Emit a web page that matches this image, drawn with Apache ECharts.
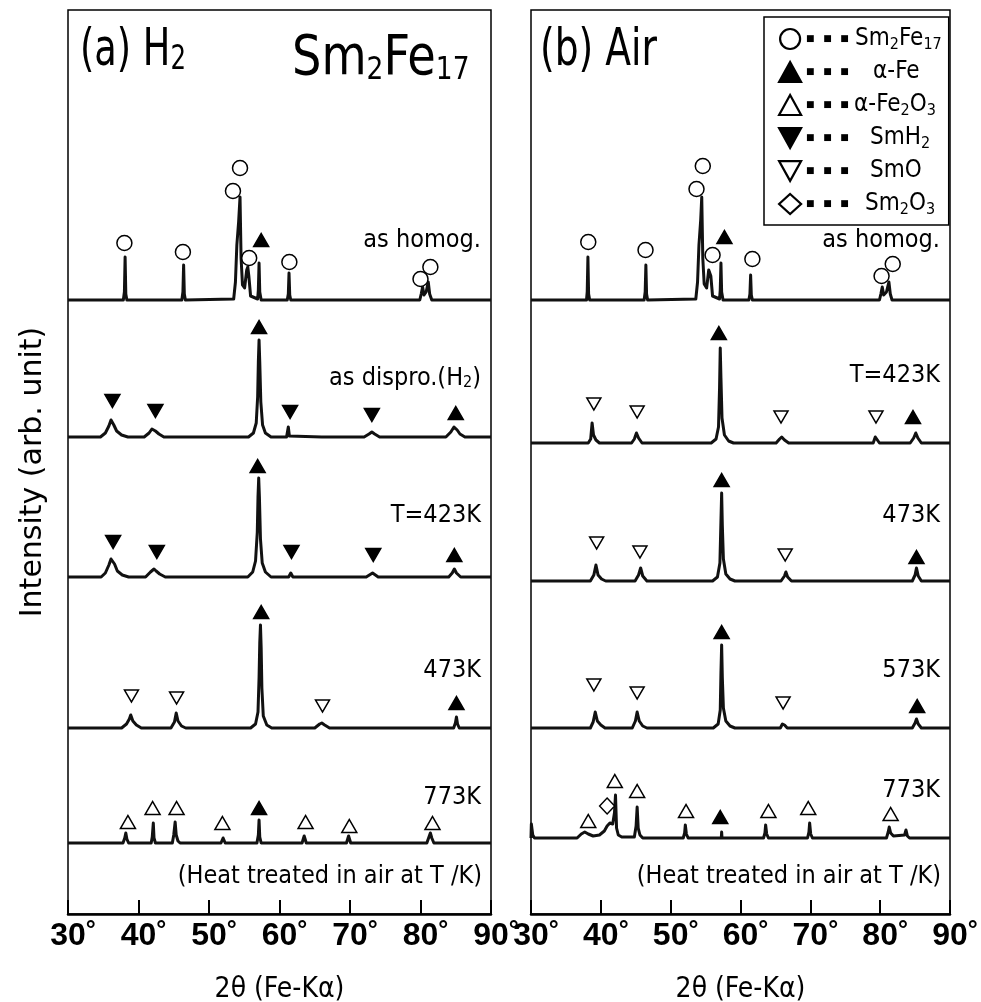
<!DOCTYPE html>
<html>
<head>
<meta charset="utf-8">
<script src="https://cdn.jsdelivr.net/npm/echarts@6/dist/echarts.min.js"></script>
<style>
html, body { margin: 0; padding: 0; background: #fff; }
#main { width: 981px; height: 1002px; }
</style>
</head>
<body>
<div id="main"></div>
<script>
// x axis
var xMin = 30, xMax = 90, xStep = 10;
var xName = '2θ (Fe-Kα)';
var yName = 'Intensity (arb. unit)';

// pattern labels
var labelsA = ['as homog.', 'as dispro.(H{s|2})', 'T=423K', '473K', '773K'];
var labelsB = ['as homog.', 'T=423K', '473K', '573K', '773K'];
var phaseNames = ['Sm2Fe17', 'α-Fe', 'α-Fe2O3', 'SmH2', 'SmO', 'Sm2O3'];

// (a) H2 patterns  [2theta, intensity above own baseline]
var a_homog = [[30,0],[37.85,0],[38.0,8],[38.1,43],[38.2,6],[38.35,0],
  [46.15,0],[46.3,8],[46.4,35],[46.5,6],[46.65,0],
  [53.5,1],[53.75,18],[53.95,55],[54.2,78],[54.4,103],[54.55,42],[54.75,15],[55.05,12],[55.35,30],[55.5,33],[55.65,24],[55.9,4],
  [56.9,1],[57.0,10],[57.1,37],[57.2,8],[57.4,0],
  [61.1,0],[61.25,6],[61.35,27],[61.45,5],[61.6,0],
  [79.9,0],[80.1,6],[80.3,13],[80.5,5],[80.8,8],[81.1,18],[81.3,6],[81.6,0],[90,0]];
var a_dispro = [[30,0],[34.6,0],[35.3,4],[35.8,11],[36.1,17],[36.25,19],[36.5,12],[36.9,6],[37.6,2],[38.5,0],
  [40.8,0],[41.5,4],[41.9,8],[42.1,9],[42.4,6],[42.9,3],[43.6,0],
  [55.6,0],[56.3,4],[56.7,14],[56.9,40],[57.0,75],[57.1,97],[57.2,75],[57.35,35],[57.6,12],[58.0,4],[58.8,0],
  [61.0,0],[61.15,2],[61.25,10],[61.4,1],[61.6,0],[66.0,0],
  [72.0,0],[72.7,3],[73.1,5],[73.5,3],[74.2,0],
  [83.6,0],[84.3,5],[84.75,10],[84.9,11],[85.2,7],[85.6,3],[86.3,0],[90,0]];
var a_423 = [[30,0],[34.7,0],[35.3,4],[35.8,12],[36.1,18],[36.3,20],[36.6,13],[37.0,6],[37.7,2],[38.6,0],
  [41.0,0],[41.7,5],[42.2,8],[42.5,6],[43.0,3],[43.8,0],
  [55.5,0],[56.2,5],[56.6,16],[56.85,45],[56.95,80],[57.05,99],[57.15,80],[57.3,38],[57.55,14],[58.0,5],[58.8,0],
  [61.3,0],[61.6,4],[61.9,0],
  [72.3,0],[73.2,4],[74.0,0],
  [84.0,0],[84.5,4],[84.8,8],[85.1,4],[85.7,0],[90,0]];
var a_473 = [[30,0],[37.6,0],[38.3,4],[38.7,9],[38.9,13],[39.2,7],[39.7,3],[40.4,0],
  [44.6,0],[45.1,6],[45.35,15],[45.6,7],[46.1,2],[46.7,0],
  [55.9,0],[56.6,4],[56.95,16],[57.1,50],[57.2,85],[57.3,103],[57.4,80],[57.5,40],[57.7,12],[58.2,3],[58.9,0],
  [65.0,0],[65.7,4],[66.0,5],[66.4,3],[67.1,0],
  [84.7,0],[84.95,5],[85.1,11],[85.25,4],[85.5,0],[90,0]];
var a_773 = [[30,0],[37.8,0],[38.05,5],[38.2,10],[38.35,4],[38.6,0],
  [41.8,0],[41.95,6],[42.1,20],[42.2,5],[42.4,0],
  [44.8,0],[45.0,8],[45.2,21],[45.35,8],[45.6,2],[45.9,0],
  [51.7,0],[52.0,5],[52.3,0],
  [56.8,0],[57.0,8],[57.1,23],[57.2,6],[57.4,0],
  [63.2,0],[63.5,7],[63.8,0],
  [69.5,0],[69.8,7],[70.1,0],
  [80.9,0],[81.2,6],[81.4,10],[81.6,5],[81.9,0],[90,0]];

// (b) Air patterns
var b_homog = [[30,0],[37.95,0],[38.05,8],[38.15,43],[38.25,6],[38.4,0],
  [46.2,0],[46.35,8],[46.45,35],[46.55,6],[46.7,0],
  [53.6,1],[53.85,18],[54.05,55],[54.3,80],[54.45,103],[54.6,42],[54.8,16],[55.15,12],[55.45,30],[55.6,32],[55.75,24],[56.0,4],
  [57.0,1],[57.1,10],[57.2,37],[57.3,8],[57.5,0],
  [61.2,0],[61.35,6],[61.45,25],[61.55,5],[61.7,0],
  [79.9,0],[80.1,6],[80.3,13],[80.5,5],[80.9,8],[81.25,18],[81.45,6],[81.7,0],[90,0]];
var b_423 = [[30,0],[38.2,0],[38.55,4],[38.75,20],[38.95,8],[39.3,3],[39.8,0],
  [44.4,0],[44.8,4],[45.1,10],[45.4,5],[45.9,0],
  [55.8,0],[56.5,4],[56.85,16],[57.0,55],[57.1,95],[57.2,65],[57.35,25],[57.7,8],[58.3,2],[59.0,0],
  [65.1,0],[65.6,4],[65.9,6],[66.3,3],[66.9,0],
  [79.0,0],[79.3,6],[79.4,8],[79.6,3],[79.9,0],
  [84.3,0],[84.8,5],[85.1,10],[85.4,5],[85.9,0],[90,0]];
var b_473 = [[30,0],[38.5,0],[39.0,6],[39.3,16],[39.6,6],[40.1,2],[40.7,0],
  [44.9,0],[45.4,6],[45.7,13],[46.0,5],[46.6,0],
  [56.0,0],[56.7,4],[57.05,18],[57.2,60],[57.3,88],[57.4,55],[57.55,22],[57.9,7],[58.5,2],[59.2,0],
  [65.8,0],[66.3,5],[66.5,9],[66.75,4],[67.3,0],
  [84.6,0],[85.0,6],[85.2,13],[85.45,5],[85.9,0],[90,0]];
var b_573 = [[30,0],[38.5,0],[38.9,6],[39.2,16],[39.5,7],[40.0,3],[40.6,0],
  [44.5,0],[44.95,7],[45.2,16],[45.5,7],[46.0,2],[46.6,0],
  [56.1,0],[56.8,4],[57.1,18],[57.2,55],[57.3,83],[57.4,50],[57.55,20],[57.9,7],[58.5,2],[59.2,0],
  [65.7,0],[66.0,4],[66.1,6],[66.3,3],[66.7,0],
  [84.6,0],[85.0,5],[85.2,9],[85.45,4],[85.9,0],[90,0]];
var b_773 = [[30,0],[30.05,14],[30.25,3],[30.5,0],
  [36.6,0],[37.2,4],[37.7,6],[38.2,4],[38.9,2],[39.8,3],[40.5,7],[40.9,12],[41.3,15],[41.7,14],[41.95,25],[42.1,43],[42.25,10],[42.5,3],[43.0,1],
  [44.8,1],[45.05,12],[45.2,31],[45.35,10],[45.6,3],[46.0,0],
  [51.8,0],[52.0,5],[52.1,13],[52.25,4],[52.5,0],
  [57.25,0],[57.3,6],[57.35,0],
  [63.3,0],[63.5,5],[63.6,13],[63.75,4],[64.0,0],
  [69.6,0],[69.8,6],[69.9,15],[70.05,4],[70.3,0],
  [80.9,0],[81.15,6],[81.3,11],[81.5,5],[81.9,2],[83.5,3],[83.7,8],[83.9,2],[84.2,0],[90,0]];

// peak markers  [pattern index, 2theta, height above that pattern's baseline]
var a_Sm2Fe17 = [[0,38.0,57],[0,46.3,48],[0,53.4,109],[0,54.4,132],[0,55.7,42],[0,61.4,38],[0,80.0,21],[0,81.4,33]];
var a_aFe = [[0,57.4,60],[1,57.1,110],[1,85.0,24],[2,56.9,111],[2,84.8,22],[3,57.4,116],[3,85.1,25],[4,57.1,35]];
var a_aFe2O3 = [[4,38.5,21],[4,42.0,35],[4,45.4,35],[4,51.9,20],[4,63.7,21],[4,69.9,17],[4,81.7,20]];
var a_SmH2 = [[1,36.3,36],[1,42.4,26],[1,61.5,25],[1,73.1,22],[2,36.4,35],[2,42.6,25],[2,61.7,25],[2,73.3,22]];
var a_SmO = [[3,39.0,32],[3,45.4,30],[3,66.1,22]];
var a_Sm2O3 = [];

var b_Sm2Fe17 = [[0,38.2,58],[0,46.4,50],[0,53.7,111],[0,54.6,134],[0,56.0,45],[0,61.7,41],[0,80.2,24],[0,81.8,36]];
var b_aFe = [[0,57.7,63],[1,56.9,110],[1,84.7,26],[2,57.3,101],[2,85.2,24],[3,57.3,96],[3,85.3,22],[4,57.1,21]];
var b_aFe2O3 = [[4,38.2,17],[4,42.0,57],[4,45.2,47],[4,52.2,27],[4,64.0,27],[4,69.7,30],[4,81.5,24]];
var b_SmH2 = [];
var b_SmO = [[1,39.0,39],[1,45.2,31],[1,65.8,26],[1,79.4,26],[2,39.4,38],[2,45.6,29],[2,66.4,26],[3,39.0,43],[3,45.2,35],[3,66.1,25]];
var b_Sm2O3 = [[4,40.9,32]];

// ---- layout & style ----
var COND = "'DejaVu Sans Condensed', 'DejaVu Sans', sans-serif";
var LIB = "'Liberation Sans', Arial, sans-serif";
var PLOT_TOP = 10, PLOT_H = 904;
var panels = [
  { left: 68, width: 423, traces: [a_homog, a_dispro, a_423, a_473, a_773], offs: [614, 477, 337, 186, 71],
    marks: [a_Sm2Fe17, a_aFe, a_aFe2O3, a_SmH2, a_SmO, a_Sm2O3], labels: labelsA, labelY: [240, 378, 515, 670, 797] },
  { left: 531, width: 419, traces: [b_homog, b_423, b_473, b_573, b_773], offs: [614, 471, 333, 186, 76],
    marks: [b_Sm2Fe17, b_aFe, b_aFe2O3, b_SmH2, b_SmO, b_Sm2O3], labels: labelsB, labelY: [240, 375, 515, 670, 790] }
];
var phaseStyle = [
  { symbol: 'circle', size: 15, rotate: 0, fill: '#fff' },
  { symbol: 'triangle', size: [15, 13], rotate: 0, fill: '#000' },
  { symbol: 'triangle', size: [15, 13], rotate: 0, fill: '#fff' },
  { symbol: 'triangle', size: [15, 13], rotate: 180, fill: '#000' },
  { symbol: 'triangle', size: [14, 12], rotate: 180, fill: '#fff' },
  { symbol: 'diamond', size: [15, 16], rotate: 0, fill: '#fff' }
];
var DOWN = 'path://M0,0L20,0L10,18Z';
var legendText = {
  'Sm2Fe17': 'Sm{s|2}Fe{s|17}', 'α-Fe': 'α-Fe', 'α-Fe2O3': 'α-Fe{s|2}O{s|3}',
  'SmH2': 'SmH{s|2}', 'SmO': 'SmO', 'Sm2O3': 'Sm{s|2}O{s|3}'
};
var legendIndent = [49, 67, 48, 64, 64, 59];

var chart = echarts.init(document.getElementById('main'));

var grids = [], xAxes = [], yAxes = [], series = [], graphics = [];
panels.forEach(function (p, gi) {
  grids.push({ left: p.left, top: PLOT_TOP, width: p.width, height: PLOT_H,
    outerBoundsMode: 'none', containLabel: false,
    show: true, borderColor: '#000', borderWidth: 1.5 });
  xAxes.push({
    type: 'value', gridIndex: gi, min: xMin, max: xMax, interval: xStep,
    axisLine: { lineStyle: { color: '#000', width: 2.5 } },
    axisTick: { inside: true, length: 14, lineStyle: { color: '#000', width: 2 } },
    splitLine: { show: false },
    axisLabel: {
      margin: 5, padding: [0, 0, 0, 10],
      formatter: function (v) { return '{v|' + v + '}{d|°}'; },
      rich: {
        v: { fontSize: 32, fontWeight: 'bold', fontFamily: LIB, color: '#000', lineHeight: 34 },
        d: { fontSize: 25, fontWeight: 'bold', fontFamily: LIB, color: '#000', lineHeight: 24, verticalAlign: 'top' }
      }
    },
    name: xName, nameLocation: 'middle', nameGap: 62, nameMoveOverlap: false,
    nameTextStyle: { fontSize: 28, fontFamily: COND, color: '#000' }
  });
  yAxes.push({ type: 'value', gridIndex: gi, min: 0, max: PLOT_H, show: false });

  p.traces.forEach(function (t, i) {
    series.push({
      type: 'line', xAxisIndex: gi, yAxisIndex: gi, silent: true, animation: false,
      symbol: 'none', z: 2,
      lineStyle: { color: '#111', width: 3, join: 'round' },
      data: t.map(function (d) { return [d[0], d[1] + p.offs[i]]; })
    });
  });

  p.marks.forEach(function (m, k) {
    var st = phaseStyle[k];
    series.push({
      name: phaseNames[k], type: 'scatter', xAxisIndex: gi, yAxisIndex: gi,
      silent: true, animation: false, z: 5,
      symbol: st.symbol, symbolSize: st.size, symbolRotate: st.rotate,
      itemStyle: { color: st.fill, borderColor: '#000', borderWidth: 1.5, opacity: 1 },
      data: m.map(function (d) { return [d[1], d[2] + p.offs[d[0]]]; })
    });
  });

  p.labels.forEach(function (txt, i) {
    graphics.push({
      type: 'text', x: p.left + p.width - 10, y: p.labelY[i], silent: true,
      style: { text: txt, align: 'right', verticalAlign: 'middle', fill: '#000',
        fontSize: 25, fontFamily: COND,
        rich: { s: { fontSize: 16, fontFamily: COND, lineHeight: 14, verticalAlign: 'bottom' } } }
    });
  });
  graphics.push({
    type: 'text', x: p.left + p.width - 9, y: 876, silent: true,
    style: { text: '(Heat treated in air at T /K)', align: 'right', verticalAlign: 'middle',
      fill: '#000', fontSize: 25, fontFamily: COND }
  });
});

// panel titles
var bigRich = {
  s: { fontSize: 34, fontFamily: COND, lineHeight: 30, verticalAlign: 'bottom' },
  t: { fontSize: 32, fontFamily: COND, lineHeight: 30, verticalAlign: 'bottom' }
};
graphics.push(
  { type: 'text', x: 80, y: 27, scaleX: 0.8, silent: true,
    style: { text: '(a) H{s|2}', fontSize: 51, fontFamily: COND, lineHeight: 50, fill: '#000',
      verticalAlign: 'top', rich: bigRich } },
  { type: 'text', x: 292, y: 31, scaleX: 0.92, silent: true,
    style: { text: 'Sm{t|2}Fe{t|17}', fontSize: 56, fontFamily: COND, lineHeight: 56, fill: '#000',
      verticalAlign: 'top', rich: bigRich } },
  { type: 'text', x: 540, y: 27, scaleX: 0.82, silent: true,
    style: { text: '(b) Air', fontSize: 51, fontFamily: COND, lineHeight: 50, fill: '#000',
      verticalAlign: 'top' } },
  { type: 'text', x: 33, y: 472, rotation: Math.PI / 2, silent: true,
    style: { text: yName, align: 'center', verticalAlign: 'middle', fill: '#000',
      fontSize: 30, fontFamily: "'DejaVu Sans', sans-serif" } }
);

var legendRich = { s: { fontSize: 16, fontFamily: COND, lineHeight: 14, verticalAlign: 'bottom' } };
legendIndent.forEach(function (w, i) {
  legendRich['d' + i] = { width: w, align: 'left', fontSize: 9, fontFamily: "'DejaVu Sans', sans-serif" };
});

var option = {
  backgroundColor: '#fff',
  animation: false,
  grid: grids,
  xAxis: xAxes,
  yAxis: yAxes,
  legend: {
    data: phaseNames.map(function (n, i) {
      return phaseStyle[i].rotate ? { name: n, icon: DOWN } : { name: n };
    }),
    orient: 'vertical', left: 764, top: 17,
    padding: [8, 7, 7, 14], itemGap: 5, itemWidth: 22, itemHeight: 20,
    borderColor: '#000', borderWidth: 1.5, selectedMode: false,
    itemStyle: { borderWidth: 2.2 },
    textStyle: { fontSize: 24, fontFamily: COND, color: '#000', lineHeight: 28, rich: legendRich },
    formatter: function (name) {
      var i = phaseNames.indexOf(name);
      return '{d' + i + '|■   ■   ■}' + legendText[name];
    }
  },
  graphic: graphics,
  series: series
};
chart.setOption(option);
</script>
</body>
</html>
